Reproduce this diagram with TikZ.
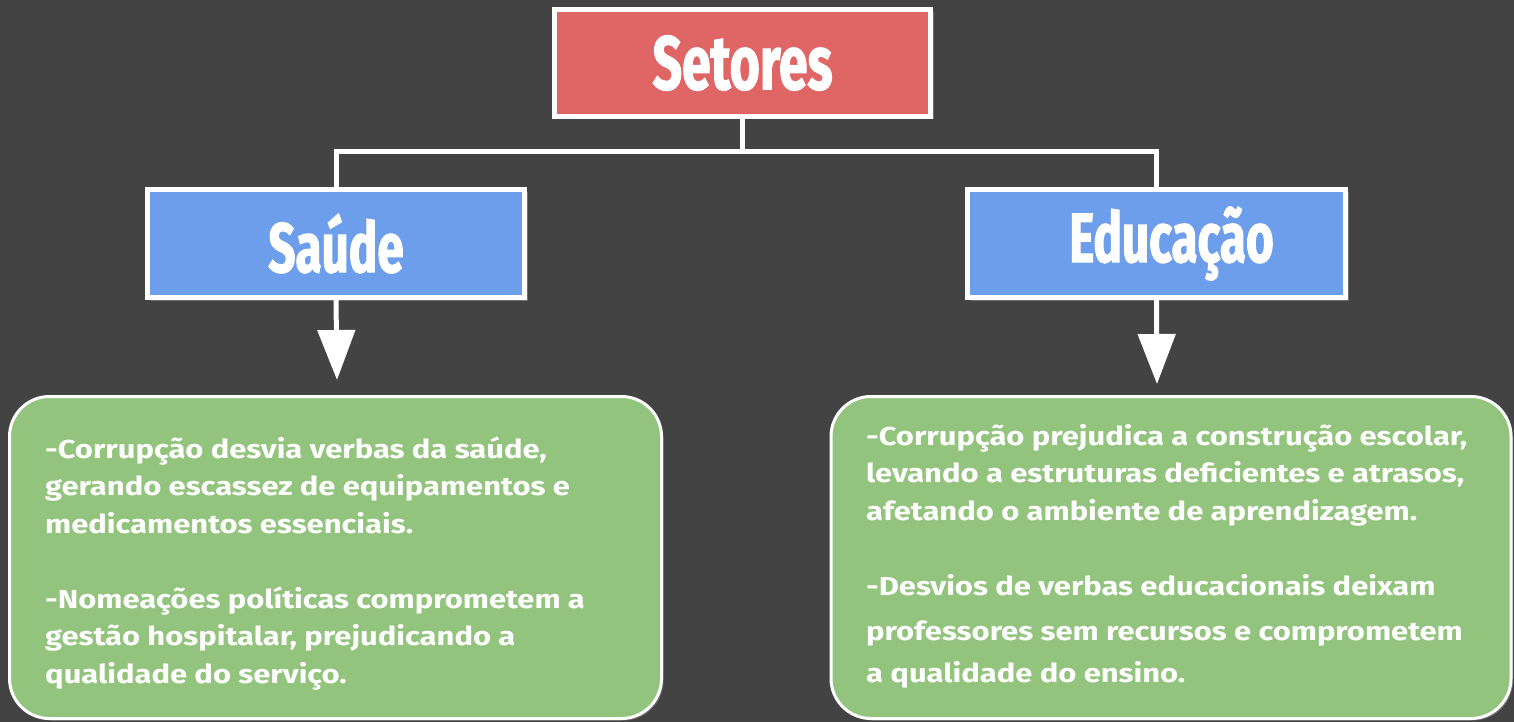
\documentclass[tikz,border=0pt]{standalone}
\usepackage{fontspec}
\setmainfont{Fira Sans}
\newfontfamily\titlefont[FakeStretch=0.68,FakeBold=1.5]{Fira Sans}
\newfontfamily\bodyfont[FakeStretch=1.19]{Fira Sans}
\usetikzlibrary{arrows.meta,shadows,calc}
\definecolor{bgc}{HTML}{434343}
\definecolor{redc}{HTML}{E06666}
\definecolor{bluec}{HTML}{6D9EEB}
\definecolor{greenc}{HTML}{93C47D}
\definecolor{shadowc}{HTML}{6E6E6E}
\tikzset{
  hbox/.style={draw=white, line width=5pt, inner sep=0pt, text=white,
    drop shadow={shadow xshift=3pt, shadow yshift=-3pt, fill=shadowc, opacity=1}},
  titletext/.style={font=\titlefont\bfseries\fontsize{76}{76}\selectfont},
  subtext/.style={font=\titlefont\bfseries\fontsize{70}{70}\selectfont},
  gbox/.style={draw=white, line width=3pt, fill=greenc, rounded corners=40pt, inner sep=0pt,
    drop shadow={shadow xshift=2pt, shadow yshift=-2pt, fill=shadowc, opacity=1}},
  btext/.style={text=white, align=left, inner sep=0pt, anchor=base west,
    font=\bodyfont\bfseries\fontsize{26}{37.5}\selectfont},
  conn/.style={draw=white, line width=5pt, line join=miter},
  arr/.style={draw=white, line width=5pt, -{Triangle[width=37pt,length=50pt]}}
}
\begin{document}
\begin{tikzpicture}[x=1pt,y=-1pt]
\fill[bgc] (0,0) rectangle (1514,722);
\useasboundingbox (0,0) rectangle (1514,722);

\node[hbox, fill=redc, minimum width=376pt, minimum height=107pt, titletext] (top) at (742.5,63) {Setores};
\node[hbox, fill=bluec, minimum width=377pt, minimum height=108pt, subtext] (saude) at (336,243.5) {Saúde};
\node[hbox, fill=bluec, minimum width=378pt, minimum height=108pt, subtext] (educ) at (1156.5,243.5) {\hspace*{30pt}Educação};

\coordinate (j) at (742.5,152);
\draw[conn] (top.south) -- (j);
\draw[conn] (j) -| (saude.north);
\draw[conn] (j) -| (educ.north);

\node[gbox, minimum width=652pt, minimum height=322pt] (gl) at (335.5,557.5) {};
\node[gbox, minimum width=680pt, minimum height=322pt] (gr) at (1171,557.5) {};

\coordinate (tipl) at (337,380);
\coordinate (tipr) at (1157,384);
\draw[arr] (saude.south) -- (tipl);
\draw[arr] (educ.south) -- (tipr);

\node[btext] (tl) at (45,683) {-Corrupção desvia verbas da saúde,\\
gerando escassez de equipamentos e\\
medicamentos essenciais.\\[37.5pt]
-Nomeações políticas comprometem a\\
gestão hospitalar, prejudicando a\\
qualidade do serviço.};

\node[btext] (tr) at (866,682) {-Corrupção prejudica a construção escolar,\\
levando a estruturas deficientes e atrasos,\\
afetando o ambiente de aprendizagem.\\[37.5pt]
-Desvios de verbas educacionais deixam\\[7.5pt]
professores sem recursos e comprometem\\[4.5pt]
a qualidade do ensino.};
\end{tikzpicture}
\end{document}
